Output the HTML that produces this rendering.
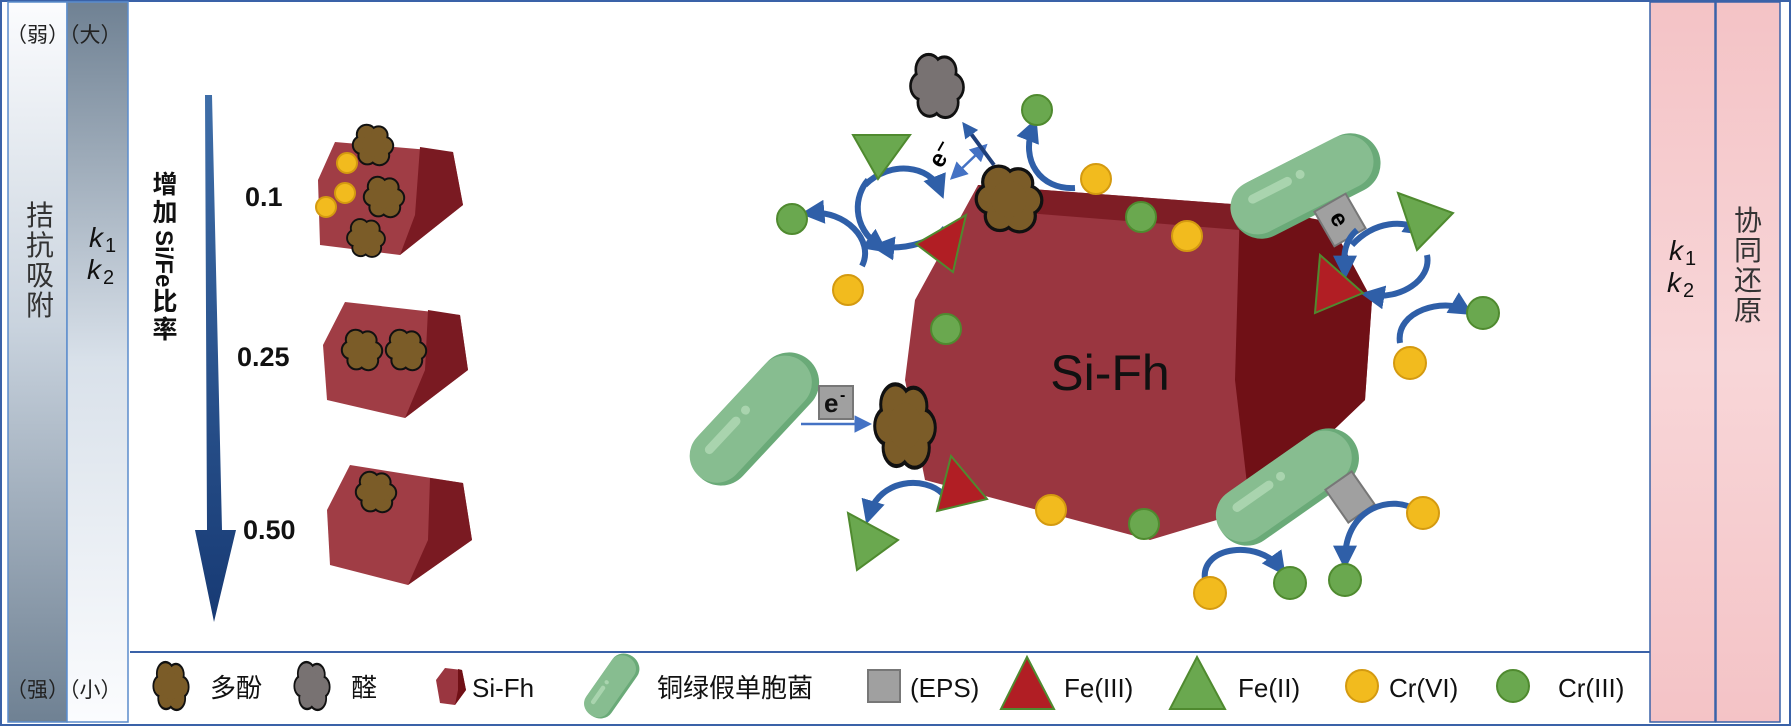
<!DOCTYPE html>
<html><head><meta charset="utf-8"><style>
html,body{margin:0;padding:0;background:#fff}
svg{display:block}
text{font-family:"Liberation Sans","Noto Sans CJK SC",sans-serif}
</style></head><body>
<svg width="1791" height="726" viewBox="0 0 1791 726" xmlns="http://www.w3.org/2000/svg">
<defs>
<linearGradient id="g1" x1="0" y1="0" x2="0" y2="1"><stop offset="0" stop-color="#fbfcfe"/><stop offset="0.45" stop-color="#c9d3de"/><stop offset="1" stop-color="#6f8193"/></linearGradient>
<linearGradient id="g2" x1="0" y1="0" x2="0" y2="1"><stop offset="0" stop-color="#6f8193"/><stop offset="0.5" stop-color="#d9e1ea"/><stop offset="1" stop-color="#fbfcfe"/></linearGradient>
<linearGradient id="gp" x1="0" y1="0" x2="0" y2="1"><stop offset="0" stop-color="#f4c3c6"/><stop offset="0.5" stop-color="#f8d6d8"/><stop offset="1" stop-color="#f4c3c6"/></linearGradient>
<linearGradient id="ga" x1="0" y1="0" x2="0" y2="1"><stop offset="0" stop-color="#3f6ea8"/><stop offset="1" stop-color="#173a74"/></linearGradient>
<marker id="ah" viewBox="0 0 10 10" refX="6" refY="5" markerWidth="4" markerHeight="4" orient="auto"><path d="M0,0 L10,5 L0,10 z" fill="#2f5fa8"/></marker>
<marker id="ah2" viewBox="0 0 10 10" refX="6" refY="5" markerWidth="7" markerHeight="7" orient="auto"><path d="M0,0 L10,5 L0,10 z" fill="#4472c4"/></marker>
<marker id="ah2s" viewBox="0 0 10 10" refX="4" refY="5" markerWidth="7" markerHeight="7" orient="auto-start-reverse"><path d="M0,0 L10,5 L0,10 z" fill="#4472c4"/></marker>
<g id="blob">
<g stroke="#111" stroke-width="5"><circle cx="-8" cy="-13" r="11"/><circle cx="7" cy="-12" r="10"/><circle cx="14" cy="1" r="10"/><circle cx="8" cy="13" r="11"/><circle cx="-7" cy="13" r="10"/><circle cx="-14" cy="0" r="10"/></g>
<g><circle cx="-8" cy="-13" r="11"/><circle cx="7" cy="-12" r="10"/><circle cx="14" cy="1" r="10"/><circle cx="8" cy="13" r="11"/><circle cx="-7" cy="13" r="10"/><circle cx="-14" cy="0" r="10"/><circle cx="0" cy="0" r="14"/></g>
</g>
<g id="bact">
<rect x="-80" y="-30" width="160" height="60" rx="30" fill="#6aaa78"/>
<rect x="-80" y="-30" width="154" height="54" rx="27" fill="#87bd90"/>
<rect x="-58" y="-17" width="48" height="9" rx="4.5" fill="#a9d4ae"/>
<circle cx="0" cy="-13" r="4.5" fill="#a9d4ae"/>
</g>
</defs>

<rect x="1" y="1" width="1789" height="724" fill="#fff" stroke="#3a62a8" stroke-width="2"/>
<rect x="8" y="2" width="59" height="720" fill="url(#g1)" stroke="#5b8ccc" stroke-width="1.5"/>
<rect x="67" y="2" width="61" height="720" fill="url(#g2)" stroke="#5b8ccc" stroke-width="1.5"/>
<rect x="1650" y="2" width="65" height="720" fill="url(#gp)" stroke="#3a62a8" stroke-width="1.5"/>
<rect x="1716" y="2" width="64" height="720" fill="url(#gp)" stroke="#3a62a8" stroke-width="1.5"/>

<g font-size="21" fill="#222">
<text x="6" y="42">（弱）（大）</text>
<text x="6" y="697">（强）（小）</text>
</g>
<g font-size="28" fill="#333" text-anchor="middle">
<text x="40" y="225">拮</text><text x="40" y="255">抗</text><text x="40" y="285">吸</text><text x="40" y="315">附</text>
<text x="1748" y="230">协</text><text x="1748" y="260">同</text><text x="1748" y="290">还</text><text x="1748" y="320">原</text>
</g>
<g font-family="Liberation Serif,serif" font-style="italic" font-size="28" fill="#111">
<text x="89" y="247">k</text><text x="105" y="252" font-size="20" font-style="normal">1</text>
<text x="87" y="279">k</text><text x="103" y="284" font-size="20" font-style="normal">2</text>
<text x="1669" y="260">k</text><text x="1685" y="265" font-size="20" font-style="normal">1</text>
<text x="1667" y="292">k</text><text x="1683" y="297" font-size="20" font-style="normal">2</text>
</g>

<line x1="130" y1="652" x2="1650" y2="652" stroke="#3a62a8" stroke-width="2"/>

<path d="M205,95 L212,95 L222,530 L236,530 L214,622 L195,530 L207,530 Z" fill="url(#ga)"/>
<g font-size="25" font-weight="bold" fill="#111" text-anchor="middle">
<text x="165" y="193">增</text><text x="165" y="221">加</text>
<text transform="translate(156,230) rotate(90)" font-size="24" text-anchor="start">Si/Fe</text>
<text x="165" y="310">比</text><text x="165" y="338">率</text>
</g>
<g font-size="27" font-weight="bold" fill="#111">
<text x="245" y="206">0.1</text>
<text x="237" y="366">0.25</text>
<text x="243" y="539">0.50</text>
</g>

<g>
<polygon points="335,142 453,152 463,205 400,255 320,245 318,180" fill="#a03d45"/>
<polygon points="420,147 453,152 463,205 400,255 415,215" fill="#7a1a22"/>
<use href="#blob" transform="translate(373,145) scale(0.8)" fill="#7b5c28"/>
<use href="#blob" transform="translate(384,197) scale(0.8)" fill="#7b5c28"/>
<use href="#blob" transform="translate(366,238) scale(0.75)" fill="#7b5c28"/>
<g fill="#f2bb1e" stroke="#d49a10" stroke-width="2"><circle cx="347" cy="163" r="10"/><circle cx="345" cy="193" r="10"/><circle cx="326" cy="207" r="10"/></g>

<polygon points="345,302 460,315 468,370 405,418 327,400 323,345" fill="#a03d45"/>
<polygon points="428,310 460,315 468,370 405,418 425,370" fill="#7a1a22"/>
<use href="#blob" transform="translate(362,350) scale(0.8)" fill="#7b5c28"/>
<use href="#blob" transform="translate(406,350) scale(0.8)" fill="#7b5c28"/>

<polygon points="350,465 463,483 472,540 408,585 330,565 327,510" fill="#a03d45"/>
<polygon points="430,478 463,483 472,540 408,585 428,540" fill="#7a1a22"/>
<use href="#blob" transform="translate(376,492) scale(0.8)" fill="#7b5c28"/>
</g>

<polygon points="978,185 1245,205 1330,222 1372,300 1365,400 1250,510 1150,540 925,480 905,380 915,300" fill="#9a3640"/>
<polygon points="1240,205 1330,222 1372,300 1365,400 1250,510 1235,380" fill="#701016"/>
<polygon points="978,185 1245,205 1240,230 990,210" fill="#7e1d25"/>
<text x="1110" y="390" font-size="50" fill="#111" text-anchor="middle">Si-Fh</text>

<use href="#bact" transform="translate(755,419) rotate(-47)"/>
<use href="#bact" transform="translate(1306,186) rotate(-27)"/>
<use href="#bact" transform="translate(1288,487) rotate(-35)"/>

<rect x="819" y="386" width="34" height="33" fill="#a0a0a0" stroke="#777" stroke-width="2"/>
<text x="824" y="412" font-size="26" font-weight="bold" fill="#111">e</text><text x="840" y="400" font-size="16" font-weight="bold">-</text>
<g transform="translate(1340,220) rotate(-30)"><rect x="-18" y="-20" width="36" height="40" fill="#a0a0a0" stroke="#777" stroke-width="2"/><text transform="rotate(90)" x="-8" y="8" font-size="24" font-weight="bold">e</text></g>
<g transform="translate(1350,497) rotate(-35)"><rect x="-16" y="-20" width="32" height="40" fill="#a0a0a0" stroke="#777" stroke-width="2"/></g>

<use href="#blob" transform="translate(937,86) scale(1.05,1.25)" fill="#787272"/>
<use href="#blob" transform="translate(1009,199) scale(1.3)" fill="#7b5c28"/>
<use href="#blob" transform="translate(905,426) scale(1.2,1.65)" fill="#7b5c28"/>

<line x1="801" y1="424" x2="865" y2="424" stroke="#4472c4" stroke-width="2.5" marker-end="url(#ah2)"/>
<line x1="980" y1="151" x2="955" y2="175" stroke="#4472c4" stroke-width="2.5" marker-end="url(#ah2)" marker-start="url(#ah2s)"/>
<line x1="994" y1="165" x2="966" y2="127" stroke="#1f3f7a" stroke-width="4" marker-end="url(#ah)"/>
<text transform="translate(948,158) rotate(-60)" font-size="24" font-weight="bold" text-anchor="middle">e⁻</text>

<g fill="none" stroke="#2f5fa8" stroke-width="6" marker-end="url(#ah)">
<path d="M1075,188 C1040,190 1020,160 1033,127"/>
<path d="M865,185 C890,160 930,165 940,190"/>
<path d="M945,228 C935,240 910,250 880,247"/>
<path d="M868,180 C855,195 850,225 880,247"/>
<path d="M862,266 C875,240 845,210 810,213"/>
<path d="M943,494 C925,476 880,478 869,515"/>
<path d="M1352,245 C1375,220 1405,220 1420,230"/>
<path d="M1427,255 C1432,280 1400,300 1370,295"/>
<path d="M1357,230 C1340,245 1345,265 1345,270"/>
<path d="M1400,343 C1395,310 1445,298 1465,310"/>
<path d="M1205,580 C1200,545 1260,540 1280,568"/>
<path d="M1415,510 C1395,495 1345,505 1345,560"/>
</g>

<g stroke="#4f8a2f" stroke-width="2">
<polygon points="853,135 910,135 878,179" fill="#6aa84f"/>
<polygon points="848,513 898,540 857,570" fill="#6aa84f"/>
<polygon points="1398,193 1453,213 1417,250" fill="#6aa84f"/>
<polygon points="916,244 966,215 953,272" fill="#b11e24"/>
<polygon points="937,511 951,456 987,499" fill="#b11e24"/>
<polygon points="1320,255 1363,293 1315,313" fill="#b11e24"/>
</g>

<g fill="#6aa84f" stroke="#4f8a2f" stroke-width="2">
<circle cx="1037" cy="110" r="15"/><circle cx="792" cy="219" r="15"/><circle cx="946" cy="329" r="15"/>
<circle cx="1141" cy="217" r="15"/><circle cx="1144" cy="524" r="15"/><circle cx="1483" cy="313" r="16"/>
<circle cx="1345" cy="580" r="16"/><circle cx="1290" cy="583" r="16"/>
</g>
<g fill="#f2bb1e" stroke="#d49a10" stroke-width="2">
<circle cx="1096" cy="179" r="15"/><circle cx="848" cy="290" r="15"/><circle cx="1187" cy="236" r="15"/>
<circle cx="1051" cy="510" r="15"/><circle cx="1410" cy="363" r="16"/><circle cx="1423" cy="513" r="16"/>
<circle cx="1210" cy="593" r="16"/>
</g>

<use href="#blob" transform="translate(171,686) scale(0.7,0.95)" fill="#7b5c28"/>
<text x="210" y="697" font-size="26" fill="#111">多酚</text>
<use href="#blob" transform="translate(312,686) scale(0.7,0.95)" fill="#787272"/>
<text x="351" y="697" font-size="26" fill="#111">醛</text>
<polygon points="445,668 462,670 466,690 455,705 440,703 436,680" fill="#9a3640"/>
<polygon points="458,669 462,670 466,690 455,705 458,690" fill="#701016"/>
<text x="472" y="697" font-size="26" fill="#111">Si-Fh</text>
<use href="#bact" transform="translate(612,686) rotate(-55) scale(0.45,0.5)"/>
<text x="657" y="697" font-size="26" fill="#111">铜绿假单胞菌</text>
<rect x="868" y="670" width="32" height="32" fill="#a0a0a0" stroke="#777" stroke-width="2"/>
<text x="910" y="697" font-size="26" fill="#111">(EPS)</text>
<polygon points="1027,657 1054,709 1001,709" fill="#b11e24" stroke="#4f8a2f" stroke-width="2"/>
<text x="1064" y="697" font-size="26" fill="#111">Fe(III)</text>
<polygon points="1197,657 1225,709 1170,709" fill="#6aa84f" stroke="#4f8a2f" stroke-width="2"/>
<text x="1238" y="697" font-size="26" fill="#111">Fe(II)</text>
<circle cx="1362" cy="686" r="16" fill="#f2bb1e" stroke="#d49a10" stroke-width="2"/>
<text x="1389" y="697" font-size="26" fill="#111">Cr(VI)</text>
<circle cx="1513" cy="686" r="16" fill="#6aa84f" stroke="#4f8a2f" stroke-width="2"/>
<text x="1558" y="697" font-size="26" fill="#111">Cr(III)</text>
</svg>
</body></html>
